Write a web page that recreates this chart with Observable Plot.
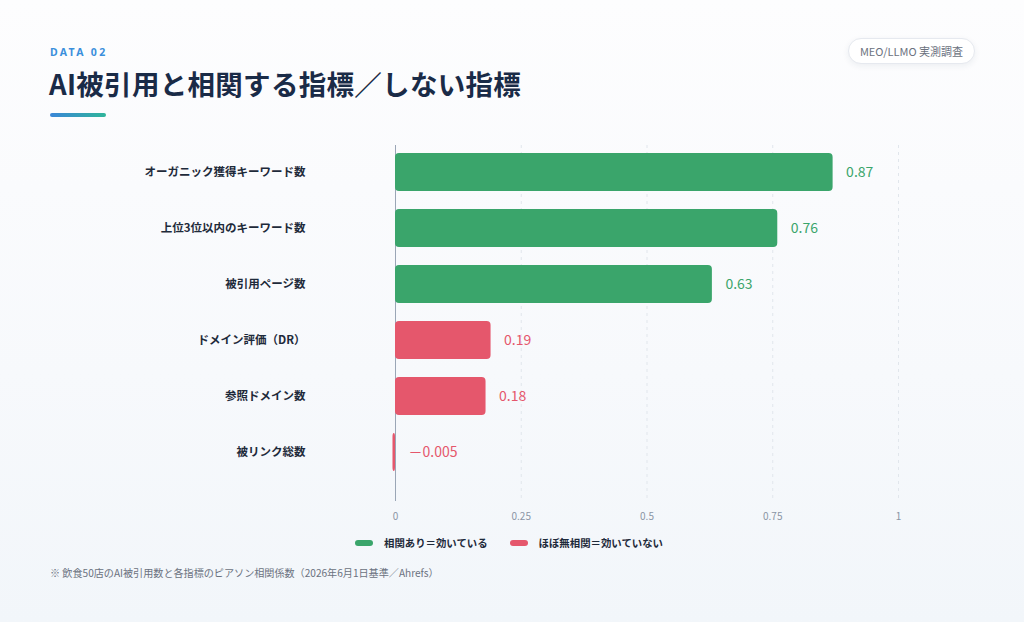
<!DOCTYPE html>
<html><head><meta charset="utf-8">
<script src="https://cdn.jsdelivr.net/npm/d3@7"></script>
<script src="https://cdn.jsdelivr.net/npm/@observablehq/plot@0.6"></script>
<style>
html,body{margin:0;padding:0;}
body{width:1024px;height:622px;position:relative;overflow:hidden;font-family:"Noto Sans CJK JP","Noto Sans",sans-serif;background:linear-gradient(180deg,#fdfdfe 0%,#f7f9fc 60%,#f2f6fa 100%);}
#kicker{position:absolute;left:50px;top:45px;font-size:10.5px;font-weight:700;letter-spacing:2.3px;color:#3a8fdc;font-family:"Noto Sans","Noto Sans CJK JP",sans-serif;}
#title{position:absolute;left:49px;top:63px;font-size:27.5px;font-weight:700;color:#1a2b47;letter-spacing:0.3px;}
#bar{position:absolute;left:50px;top:113px;width:56px;height:4px;border-radius:2px;background:linear-gradient(90deg,#3a86d8,#2fb59a);}
#badge{position:absolute;left:848px;top:38px;width:127px;height:26px;border-radius:13px;background:#fff;border:1px solid #e6e9ef;box-shadow:0 2px 6px rgba(30,50,90,0.07);font-size:11px;color:#6b7280;display:flex;align-items:center;justify-content:center;box-sizing:border-box;}
#chart{position:absolute;left:0;top:131px;}
#legend{position:absolute;left:355px;top:535px;display:flex;align-items:center;font-size:10.4px;font-weight:700;color:#1e2a3a;}
.sw{display:inline-block;width:18px;height:6px;border-radius:3px;margin-right:11px;}
.item{display:flex;align-items:center;margin-right:22px;}
#note{position:absolute;left:50px;top:565px;font-size:10.1px;color:#6b7280;}
</style></head><body>
<div id="kicker">DATA 02</div>
<div id="title">AI被引用と相関する指標／しない指標</div>
<div id="bar"></div>
<div id="badge">MEO/LLMO 実測調査</div>
<div id="chart"></div>
<div id="legend"></div>
<div id="note">※ 飲食50店のAI被引用数と各指標のピアソン相関係数（2026年6月1日基準／Ahrefs）</div>
<script>
const categories = ["オーガニック獲得キーワード数","上位3位以内のキーワード数","被引用ページ数","ドメイン評価（DR）","参照ドメイン数","被リンク総数"];
const values = [0.87, 0.76, 0.63, 0.19, 0.18, -0.005];
const valueLabels = ["0.87","0.76","0.63","0.19","0.18","－0.005"];
const groups = ["相関あり","相関あり","相関あり","ほぼ無相関","ほぼ無相関","ほぼ無相関"];
const xTicks = [0, 0.25, 0.5, 0.75, 1];
const legendLabels = {"相関あり":"相関あり＝効いている","ほぼ無相関":"ほぼ無相関＝効いていない"};
const colors = {"相関あり":"#3aa56b","ほぼ無相関":"#e5576c"};

const data = categories.map((c,i)=>({cat:c, v:values[i], label:valueLabels[i], g:groups[i]}));

const chart = Plot.plot({
  width:1024, height:400,
  marginLeft:395, marginRight:126, marginTop:14, marginBottom:30,
  style:{fontFamily:'"Noto Sans CJK JP","Noto Sans",sans-serif', background:"transparent", overflow:"visible"},
  x:{domain:[0,1], ticks:xTicks, tickFormat:d=>String(d), label:null},
  y:{domain:categories, range:[13,350], paddingInner:0.32, paddingOuter:0.16, label:null},
  color:{domain:Object.keys(colors), range:Object.values(colors)},
  marks:[
    Plot.ruleX(xTicks.filter(d=>d>0), {stroke:"#e1e6ec", strokeDasharray:"3,4", strokeWidth:1}),
    Plot.ruleX([0], {stroke:"#9aa6b6", strokeWidth:1}),
    Plot.barX(data, {y:"cat", x1:0, x2:"v", fill:d=>colors[d.g], rx:4}),
    Plot.text(data, {y:"cat", x:d=>Math.max(d.v,0), text:"label", dx:13, textAnchor:"start", fill:d=>colors[d.g], fontSize:14, fontWeight:400}),
    Plot.axisX({ticks:xTicks, tickSize:0, tickPadding:11, fontSize:10, fill:"#8a95a5", tickFormat:d=>String(d), label:null}),
    Plot.axisY({tickSize:0, tickPadding:90, fontSize:11.5, fontWeight:700, fill:"#1e2a3a", label:null})
  ]
});
document.getElementById("chart").appendChild(chart);

const lg = document.getElementById("legend");
Object.keys(legendLabels).forEach(k=>{
  const it=document.createElement("div"); it.className="item";
  const sw=document.createElement("span"); sw.className="sw"; sw.style.background=colors[k];
  it.appendChild(sw); it.appendChild(document.createTextNode(legendLabels[k]));
  lg.appendChild(it);
});
</script>
</body></html>
